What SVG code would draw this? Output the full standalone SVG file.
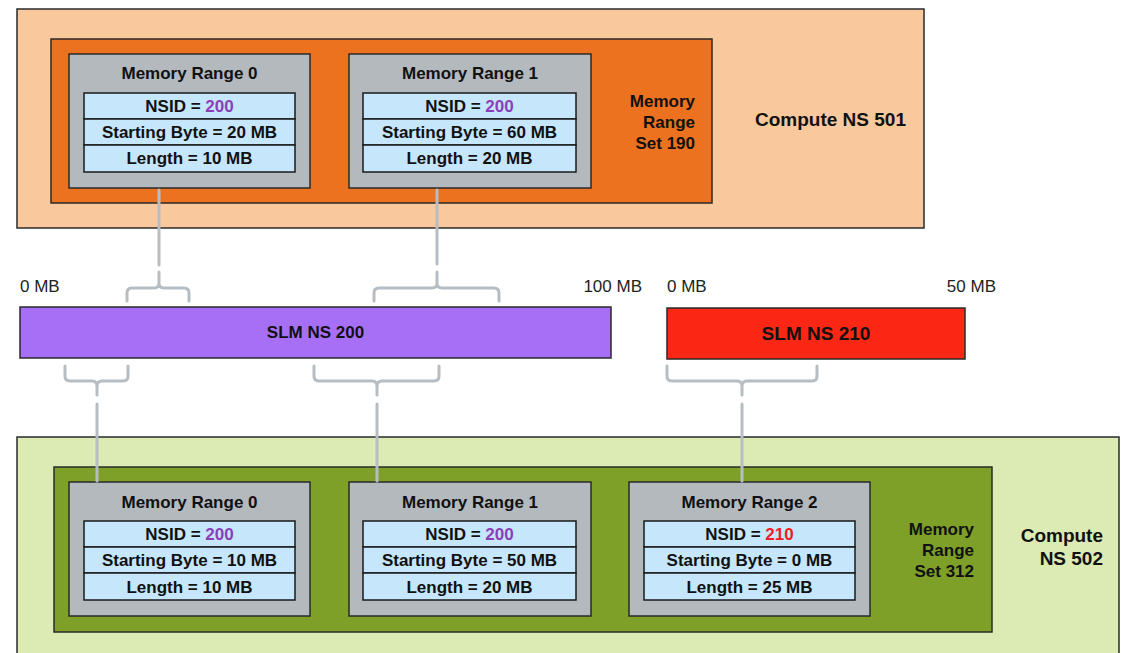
<svg xmlns="http://www.w3.org/2000/svg" width="1124" height="653" viewBox="0 0 1124 653">
<style>
text{font-family:"Liberation Sans",Arial,sans-serif;font-weight:bold;fill:#111;}
.t17{font-size:17px;}
.t19{font-size:19px;}
.n17{font-size:17px;font-weight:normal;fill:#222;}
.mid{text-anchor:middle;}
.end{text-anchor:end;}
.box{stroke:#2a2a2a;stroke-width:1.5;}
.peach{fill:#f9c89c;}
.orange{fill:#ec721f;}
.lgreen{fill:#dceab3;}
.dgreen{fill:#7e9f28;}
.gray{fill:#b4b9be;}
.cell{fill:#c6e6fb;stroke:#1a1a1a;stroke-width:1.5;}
.purp{fill:#8a3fba;}
.red{fill:#f21d1d;}
.conn{fill:none;stroke:#b6bdc3;stroke-width:3;stroke-linecap:round;stroke-linejoin:round;}
</style>

<g id="compute-ns-501">
<rect class="box peach" x="17" y="9" width="907" height="219"/>
<text class="t19" x="755" y="126">Compute NS 501</text>
</g>
<g id="mrs-190">
<rect class="box orange" x="51" y="39" width="661" height="164"/>
<text class="t17 end" x="695" y="107">Memory</text>
<text class="t17 end" x="695" y="128">Range</text>
<text class="t17 end" x="695" y="149">Set 190</text>
</g>
<g id="top-mr0">
<rect class="box gray" x="69" y="54" width="241" height="134"/>
<text class="t17 mid" x="189.5" y="79">Memory Range 0</text>
<rect class="cell" x="84" y="93" width="211" height="26"/>
<rect class="cell" x="84" y="119" width="211" height="26"/>
<rect class="cell" x="84" y="145" width="211" height="27"/>
<text class="t17 mid" x="189.5" y="112">NSID = <tspan class="purp">200</tspan></text>
<text class="t17 mid" x="189.5" y="138">Starting Byte = 20 MB</text>
<text class="t17 mid" x="189.5" y="164">Length = 10 MB</text>
</g>
<g id="top-mr1">
<rect class="box gray" x="349" y="54" width="242" height="134"/>
<text class="t17 mid" x="470" y="79">Memory Range 1</text>
<rect class="cell" x="363" y="93" width="213" height="26"/>
<rect class="cell" x="363" y="119" width="213" height="26"/>
<rect class="cell" x="363" y="145" width="213" height="27"/>
<text class="t17 mid" x="469.5" y="112">NSID = <tspan class="purp">200</tspan></text>
<text class="t17 mid" x="469.5" y="138">Starting Byte = 60 MB</text>
<text class="t17 mid" x="469.5" y="164">Length = 20 MB</text>
</g>

<g id="slm-ns-200">
<rect class="box" fill="#a76ff5" x="20" y="307" width="591" height="51"/>
<text class="t17 mid" x="315.5" y="338">SLM NS 200</text>
<text class="n17" x="20" y="292">0 MB</text>
<text class="n17 end" x="642" y="292">100 MB</text>
</g>
<g id="slm-ns-210">
<rect class="box" fill="#fb2714" x="667" y="308" width="298" height="51"/>
<text class="t19 mid" x="816" y="340">SLM NS 210</text>
<text class="n17" x="667" y="292">0 MB</text>
<text class="n17 end" x="996" y="292">50 MB</text>
</g>

<g id="compute-ns-502">
<rect class="box lgreen" x="17" y="437" width="1102" height="230"/>
<text class="t19 end" x="1103" y="542">Compute</text>
<text class="t19 end" x="1103" y="565">NS 502</text>
</g>
<g id="mrs-312">
<rect class="box dgreen" x="54" y="467" width="938" height="165"/>
<text class="t17 end" x="974" y="535">Memory</text>
<text class="t17 end" x="974" y="556">Range</text>
<text class="t17 end" x="974" y="577">Set 312</text>
</g>
<g id="bot-mr0">
<rect class="box gray" x="69" y="482" width="241" height="134"/>
<text class="t17 mid" x="189.5" y="508">Memory Range 0</text>
<rect class="cell" x="84" y="521" width="211" height="26"/>
<rect class="cell" x="84" y="547" width="211" height="26"/>
<rect class="cell" x="84" y="573" width="211" height="27"/>
<text class="t17 mid" x="189.5" y="540">NSID = <tspan class="purp">200</tspan></text>
<text class="t17 mid" x="189.5" y="566">Starting Byte = 10 MB</text>
<text class="t17 mid" x="189.5" y="593">Length = 10 MB</text>
</g>
<g id="bot-mr1">
<rect class="box gray" x="349" y="482" width="242" height="134"/>
<text class="t17 mid" x="470" y="508">Memory Range 1</text>
<rect class="cell" x="363" y="521" width="213" height="26"/>
<rect class="cell" x="363" y="547" width="213" height="26"/>
<rect class="cell" x="363" y="573" width="213" height="27"/>
<text class="t17 mid" x="469.5" y="540">NSID = <tspan class="purp">200</tspan></text>
<text class="t17 mid" x="469.5" y="566">Starting Byte = 50 MB</text>
<text class="t17 mid" x="469.5" y="593">Length = 20 MB</text>
</g>
<g id="bot-mr2">
<rect class="box gray" x="629" y="482" width="241" height="134"/>
<text class="t17 mid" x="749.5" y="508">Memory Range 2</text>
<rect class="cell" x="644" y="521" width="211" height="26"/>
<rect class="cell" x="644" y="547" width="211" height="26"/>
<rect class="cell" x="644" y="573" width="211" height="27"/>
<text class="t17 mid" x="749.5" y="540">NSID = <tspan class="red">210</tspan></text>
<text class="t17 mid" x="749.5" y="566">Starting Byte = 0 MB</text>
<text class="t17 mid" x="749.5" y="593">Length = 25 MB</text>
</g>

<g id="connectors">
<line class="conn" x1="159" y1="190" x2="159" y2="265"/>
<line class="conn" x1="437" y1="190" x2="437" y2="264"/>
<path class="conn" d="M127,301 V293 Q127,288 132,288 H154 Q159,288 159,283 V272 M159,283 Q159,288 164,288 H184 Q189,288 189,293 V301"/>
<path class="conn" d="M374,301 V293 Q374,288 379,288 H432 Q437,288 437,283 V272 M437,283 Q437,288 442,288 H494 Q499,288 499,293 V301"/>
<path class="conn" d="M65,366 V376 Q65,381 70,381 H92 Q97,381 97,386 V395 M97,386 Q97,381 102,381 H123 Q128,381 128,376 V366"/>
<path class="conn" d="M314,366 V376 Q314,381 319,381 H372 Q377,381 377,386 V395 M377,386 Q377,381 382,381 H434 Q439,381 439,376 V366"/>
<path class="conn" d="M667,366 V376 Q667,381 672,381 H737 Q742,381 742,386 V395 M742,386 Q742,381 747,381 H812 Q817,381 817,376 V366"/>
<line class="conn" x1="97" y1="404" x2="97" y2="481"/>
<line class="conn" x1="377" y1="404" x2="377" y2="481"/>
<line class="conn" x1="742" y1="404" x2="742" y2="481"/>
</g>
</svg>
